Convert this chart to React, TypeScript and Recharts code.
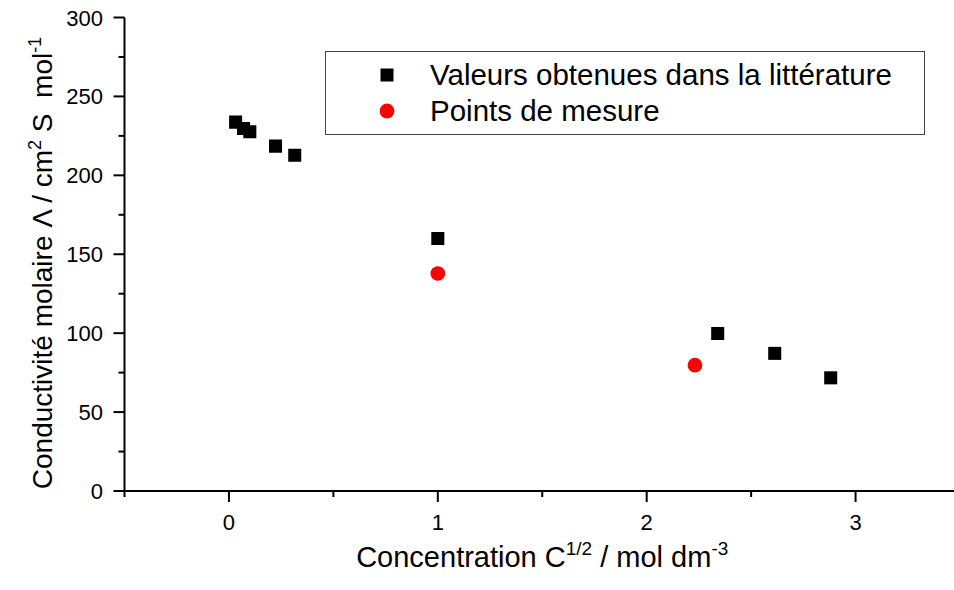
import { Legend, Scatter, ScatterChart, Symbols, XAxis, YAxis } from "recharts";

const FONT = '"Liberation Sans", Arial, Helvetica, sans-serif';

// literature values (C^1/2, molar conductivity)
const litConc = [0.032, 0.07, 0.1, 0.223, 0.315, 1.0, 2.34, 2.613, 2.881];
const litCond = [233.7, 229.7, 227.6, 218.5, 212.7, 160, 99.8, 87.2, 71.7];

// measured points
const mesConc = [1.0, 2.231];
const mesCond = [137.8, 79.7];

const seriesNames = ["Valeurs obtenues dans la littérature", "Points de mesure"];

const xMajorTicks = [0, 1, 2, 3];
const xMinorTicks = [-0.5, 0.5, 1.5, 2.5, 3.5];
const yMajorTicks = [0, 50, 100, 150, 200, 250, 300];
const yMinorTicks = [25, 75, 125, 175, 225, 275];

const litData = litConc.map((x, i) => ({ x, y: litCond[i] }));
const mesData = mesConc.map((x, i) => ({ x, y: mesCond[i] }));

const xTicks = [...xMajorTicks, ...xMinorTicks].sort((a, b) => a - b);
const yTicks = [...yMajorTicks, ...yMinorTicks].sort((a, b) => a - b);

const MAJOR = 11;
const MINOR = 6;
const MARKER_AREA = 170;

const BottomTick = ({ x, y, payload }: any) => {
  const major = xMajorTicks.includes(payload.value);
  const len = major ? MAJOR : MINOR;
  return (
    <g>
      <line x1={x} x2={x} y1={y} y2={y + len} stroke="#000" strokeWidth={2} />
      {major && (
        <text x={x} y={y + 39} textAnchor="middle" fontSize={22} fontFamily={FONT} fill="#000">
          {payload.value}
        </text>
      )}
    </g>
  );
};

const LeftTick = ({ x, y, payload }: any) => {
  const major = yMajorTicks.includes(payload.value);
  const len = major ? MAJOR : MINOR;
  return (
    <g>
      <line x1={x} x2={x - len} y1={y} y2={y} stroke="#000" strokeWidth={2} />
      {major && (
        <text x={x - 21.5} y={y + 8} textAnchor="end" fontSize={22} fontFamily={FONT} fill="#000">
          {payload.value}
        </text>
      )}
    </g>
  );
};

const TopTick = ({ x, y, payload }: any) => {
  const len = xMajorTicks.includes(payload.value) ? MAJOR : MINOR;
  return <line x1={x} x2={x} y1={y} y2={y + len} stroke="#000" strokeWidth={2} />;
};

const RightTick = ({ x, y, payload }: any) => {
  const len = yMajorTicks.includes(payload.value) ? MAJOR : MINOR;
  return <line x1={x} x2={x - len} y1={y} y2={y} stroke="#000" strokeWidth={2} />;
};

const XLabel = ({ viewBox }: any) => {
  const cx = viewBox.x + viewBox.width / 2;
  return (
    <text x={cx} y={567} textAnchor="middle" fontSize={29} fontFamily={FONT} fill="#000">
      Concentration C
      <tspan dy={-12} fontSize={19}>1/2</tspan>
      <tspan dy={12}> / mol dm</tspan>
      <tspan dy={-12} fontSize={19}>-3</tspan>
    </text>
  );
};

const YLabel = () => {
  const bx = 52;
  const cy = 263;
  return (
    <text
      x={bx}
      y={cy}
      transform={`rotate(-90, ${bx}, ${cy})`}
      textAnchor="middle"
      fontSize={28}
      fontFamily={FONT}
      fill="#000"
    >
      Conductivité molaire Λ / cm
      <tspan dy={-11} fontSize={18}>2</tspan>
      <tspan dy={11}>{"\u00a0S\u00a0\u00a0mol"}</tspan>
      <tspan dy={-11} fontSize={18}>-1</tspan>
    </text>
  );
};

const SquareDot = ({ cx, cy, fill }: any) => (
  <Symbols cx={cx} cy={cy} type="square" size={MARKER_AREA} fill={fill} />
);

const CircleDot = ({ cx, cy, fill }: any) => (
  <Symbols cx={cx} cy={cy} type="circle" size={MARKER_AREA} fill={fill} />
);

const LegendBox = ({ payload }: any) => {
  const items = [...(payload || [])].sort(
    (a: any, b: any) => seriesNames.indexOf(a.value) - seriesNames.indexOf(b.value)
  );
  return (
    <div
      style={{
        width: 600,
        height: 84,
        boxSizing: "border-box",
        border: "1.5px solid #444",
        paddingTop: 5,
        fontFamily: FONT,
        fontSize: 29.5,
        color: "#000",
        background: "#fff",
      }}
    >
      {items.map((entry: any) => (
        <div key={entry.value} style={{ display: "flex", alignItems: "center", height: 36 }}>
          <svg width={20} height={20} style={{ marginLeft: 51, flex: "none" }}>
            {entry.type === "circle" ? (
              <circle cx={10} cy={10} r={7.4} fill={entry.color} />
            ) : (
              <rect x={3.5} y={3.5} width={13} height={13} fill={entry.color} />
            )}
          </svg>
          <span style={{ marginLeft: 33, whiteSpace: "nowrap" }}>{entry.value}</span>
        </div>
      ))}
    </div>
  );
};

export default function App() {
  return (
    <div
      style={{
        position: "absolute",
        left: 0,
        top: 0,
        width: 954,
        height: 590,
        overflow: "hidden",
        background: "#fff",
      }}
    >
      <ScatterChart width={1000} height={590} margin={{ top: 17.5, right: 40, bottom: 0, left: 0 }}>
        <XAxis
          xAxisId="bottom"
          dataKey="x"
          type="number"
          orientation="bottom"
          domain={[-0.5, 3.5]}
          allowDataOverflow
          ticks={xTicks}
          interval={0}
          height={99}
          tickSize={0}
          tickMargin={0}
          tickLine={false}
          tick={BottomTick}
          axisLine={{ stroke: "#000", strokeWidth: 2 }}
          label={XLabel}
        />
        <XAxis
          xAxisId="top"
          dataKey="x"
          type="number"
          orientation="top"
          domain={[-0.5, 3.5]}
          allowDataOverflow
          ticks={xTicks}
          interval={0}
          height={0}
          tickSize={0}
          tickMargin={0}
          tickLine={false}
          tick={TopTick}
          axisLine={{ stroke: "#000", strokeWidth: 2 }}
        />
        <YAxis
          yAxisId="left"
          dataKey="y"
          type="number"
          orientation="left"
          domain={[0, 300]}
          allowDataOverflow
          ticks={yTicks}
          interval={0}
          width={124.5}
          tickSize={0}
          tickMargin={0}
          tickLine={false}
          tick={LeftTick}
          axisLine={{ stroke: "#000", strokeWidth: 2 }}
          label={YLabel}
        />
        <YAxis
          yAxisId="right"
          dataKey="y"
          type="number"
          orientation="right"
          domain={[0, 300]}
          allowDataOverflow
          ticks={yTicks}
          interval={0}
          width={0}
          tickSize={0}
          tickMargin={0}
          tickLine={false}
          tick={RightTick}
          axisLine={{ stroke: "#000", strokeWidth: 2 }}
        />
        <Legend
          layout="horizontal"
          verticalAlign="middle"
          align="center"
          content={LegendBox}
          wrapperStyle={{ left: 325, top: 51, width: 600, height: 84 }}
        />
        <Scatter
          name={seriesNames[0]}
          data={litData}
          xAxisId="bottom"
          yAxisId="left"
          shape={SquareDot}
          legendType="square"
          fill="#000"
          isAnimationActive={false}
        />
        <Scatter
          name={seriesNames[1]}
          data={mesData}
          xAxisId="bottom"
          yAxisId="left"
          shape={CircleDot}
          legendType="circle"
          fill="#ff0000"
          isAnimationActive={false}
        />
      </ScatterChart>
    </div>
  );
}
